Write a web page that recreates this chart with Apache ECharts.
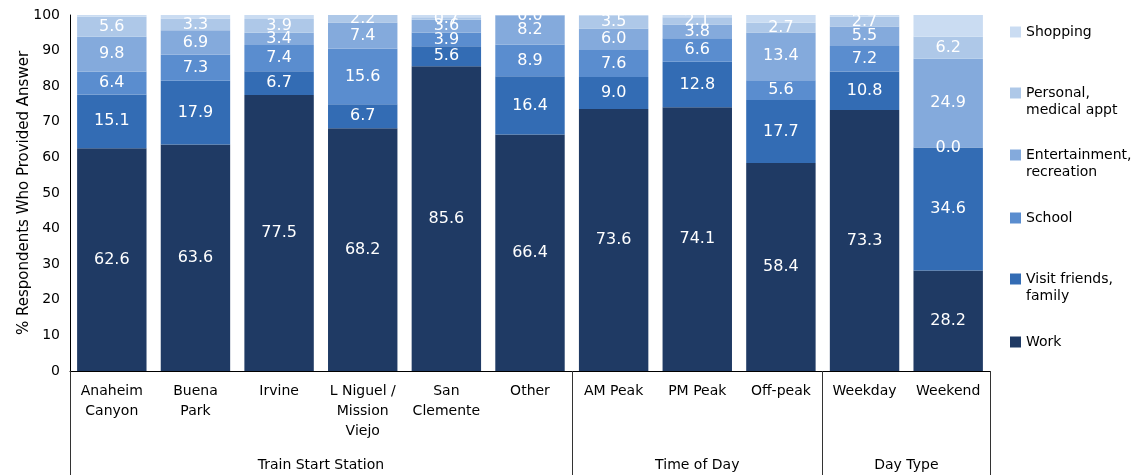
<!DOCTYPE html>
<html><head><meta charset="utf-8">
<script src="https://cdn.jsdelivr.net/npm/echarts@6/dist/echarts.min.js"></script>
<style>html,body{margin:0;padding:0;background:#fff}#c{width:1133px;height:475px}</style>
</head><body><div id="c"></div>
<script>
const categories = ['Anaheim\nCanyon','Buena\nPark','Irvine','L Niguel /\nMission\nViejo','San\nClemente','Other','AM Peak','PM Peak','Off-peak','Weekday','Weekend'];
const groupNames = ['Train Start Station','Time of Day','Day Type'];
const groupStarts = [0, 6, 9];
const groupEnds = [6, 9, 11];
const work = [62.6,63.6,77.5,68.2,85.6,66.4,73.6,74.1,58.4,73.3,28.2];
const visit = [15.1,17.9,6.7,6.7,5.6,16.4,9.0,12.8,17.7,10.8,34.6];
const school = [6.4,7.3,7.4,15.6,3.9,8.9,7.6,6.6,5.6,7.2,0.0];
const entertainment = [9.8,6.9,3.4,7.4,3.6,8.2,6.0,3.8,13.4,5.5,24.9];
const personal = [5.6,3.3,3.9,2.2,0.7,0.0,3.5,2.1,2.7,2.7,6.2];
const shopping = [0.5,1.0,1.1,0.0,0.6,0.1,0.3,0.6,2.2,0.5,6.1];
const yTicks = [0,10,20,30,40,50,60,70,80,90,100];
const seriesNames = ['Work','Visit friends, family','School','Entertainment, recreation','Personal, medical appt','Shopping'];
const legendLabels = ['Work','Visit friends,\nfamily','School','Entertainment,\nrecreation','Personal,\nmedical appt','Shopping'];

const FF = 'DejaVu Sans';
const colors = ['#1f3a64','#336cb4','#5a8dcf','#84aadc','#aec8e8','#cadcf2'];
const seriesData = [work, visit, school, entertainment, personal, shopping];
const showLabel = [true,true,true,true,true,false];
const legendCenters = [342, 279, 218, 155, 93, 32];

const halfPts = [];
for (let i = 0; i <= categories.length * 2; i++) halfPts.push(String(i));
const sepIdx = groupStarts.map(s => s * 2).concat([categories.length * 2]);
const grpLabelIdx = {};
groupNames.forEach((g, i) => { grpLabelIdx[groupStarts[i] + groupEnds[i]] = g; });

const chart = echarts.init(document.getElementById('c'), null, {renderer: 'canvas'});

const legends = seriesNames.map((n, i) => {
  const two = legendLabels[i].indexOf('\n') >= 0;
  return {
    orient: 'vertical', left: 1010,
    top: two ? legendCenters[i] - 25.5 : legendCenters[i] - 8.5,
    padding: 0, itemWidth: 11, itemHeight: 11, icon: 'rect', itemGap: 0,
    selectedMode: false, data: [n],
    formatter: () => (two ? '\n' : '') + legendLabels[i],
    textStyle: {fontFamily: FF, fontSize: 14, lineHeight: 17, color: '#000'}
  };
});

chart.setOption({
  animation: false,
  backgroundColor: '#fff',
  textStyle: {fontFamily: FF},
  grid: {left: 70, right: 143, top: 15, bottom: 104, containLabel: false},
  legend: legends,
  xAxis: [
    {
      type: 'category', data: categories, position: 'bottom',
      axisLine: {show: true, lineStyle: {color: '#000', width: 1}},
      axisTick: {show: false},
      axisLabel: {fontFamily: FF, fontSize: 14, color: '#000', lineHeight: 20, margin: 10, interval: 0}
    },
    {
      type: 'category', data: halfPts, position: 'bottom', boundaryGap: false,
      axisLine: {show: false},
      axisTick: {show: true, length: 104, inside: false, lineStyle: {color: '#333', width: 1},
        interval: (idx) => sepIdx.indexOf(idx) >= 0},
      axisLabel: {fontFamily: FF, fontSize: 14, color: '#000', lineHeight: 20, margin: 84,
        interval: (idx) => grpLabelIdx[idx] !== undefined,
        formatter: (v, idx) => grpLabelIdx[idx] || ''}
    }
  ],
  yAxis: {
    type: 'value', min: yTicks[0], max: yTicks[yTicks.length - 1], interval: yTicks[1] - yTicks[0],
    name: '% Respondents Who Provided Answer', nameLocation: 'middle', nameGap: 38,
    nameMoveOverlap: false,
    nameTextStyle: {fontFamily: FF, fontSize: 15, color: '#000'},
    axisLine: {show: true, lineStyle: {color: '#000', width: 1}},
    axisTick: {show: false},
    splitLine: {show: false},
    axisLabel: {fontFamily: FF, fontSize: 14, color: '#000', margin: 10}
  },
  series: seriesNames.map((n, i) => ({
    type: 'bar', name: n, stack: 'total', xAxisIndex: 0, data: seriesData[i],
    barCategoryGap: '17%',
    itemStyle: {color: colors[i], borderWidth: 0},
    label: {show: showLabel[i], position: 'inside', color: '#fff', fontFamily: FF, fontSize: 16,
      formatter: p => Number(p.value).toFixed(1)}
  }))
});
</script>
</body></html>
